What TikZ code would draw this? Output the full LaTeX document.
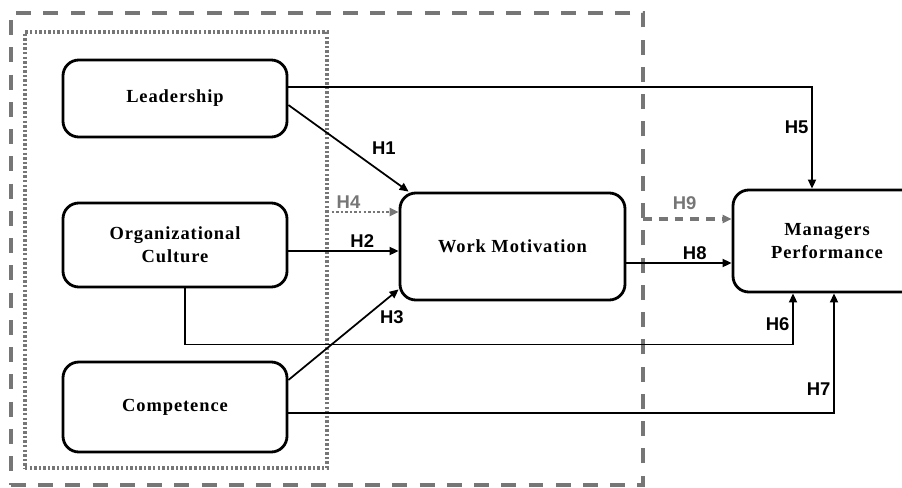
\documentclass[tikz,border=0pt]{standalone}
\usepackage{fontspec}
\setmainfont{Liberation Serif}
\newfontfamily\varfont[LetterSpace=5]{Liberation Serif}
\newfontfamily\hypfont{Liberation Sans}
\usetikzlibrary{arrows.meta, positioning, calc}
\definecolor{cgrey}{HTML}{767676}
\tikzset{
  every picture/.style={line width=1pt},
  var/.style={draw, line width=1.6pt, rounded corners=9pt, align=center, inner sep=2pt,
    font=\varfont\fontsize{10.5}{13}\selectfont\bfseries, minimum width=44.8mm},
  link/.style={-{Triangle[length=1.8mm, width=1.6mm]}, line width=1pt},
  modlink/.style={link, draw=cgrey},
  hyp/.style={font=\hypfont\fontsize{10.5}{12}\selectfont\bfseries, inner sep=1.5pt},
  hypgrey/.style={hyp, text=cgrey},
  frame/.style={draw=cgrey, inner sep=0pt, outer sep=0pt},
}

\begin{document}
\begin{tikzpicture}[x=0.2mm, y=-0.2mm]
  \useasboundingbox (0,0) rectangle (902,487);
  % mediation frame and exogenous group
  \node[frame, line width=2.1pt, dash pattern=on 8.5pt off 7pt, minimum width=126.4mm, minimum height=94.4mm] (outer) at (327,249) {};
  \node[frame, line width=1.8pt, dash pattern=on 1.4pt off 1.2pt, minimum width=60.4mm, minimum height=87.2mm] (inner) at (176,250) {};
  % variables
  \node[var, minimum height=15.4mm] (lead) at (175,98.5) {Leadership};
  \node[var, minimum height=16.8mm] (oc) at (175,245) {Organizational\\Culture};
  \node[var, minimum height=18mm] (comp) at (175,407) {Competence};
  \node[var, minimum width=45mm, minimum height=21.4mm] (wm) at (512.5,246.5) {Work Motivation};
  \node[var, minimum width=37.6mm, minimum height=20.4mm] (perf) at (827,241) {Managers\\Performance};
  % hypotheses
  \draw[link] ([yshift=-1.3mm]lead.east) -- ([xshift=2mm]wm.north west) node[midway, right=4mm, hyp] {H1};
  \draw[link] ([yshift=-1.2mm]oc.east) -- ([yshift=-1.2mm]oc.east -| wm.west) node[pos=0.67, above, hyp] {H2};
  \draw[link] ([yshift=5.4mm]comp.east) -- ([yshift=2.4mm]wm.south west) node[pos=0.8, below right, hyp] {H3};
  \draw[modlink, line width=1.4pt, dash pattern=on 1.4pt off 1.2pt] ([yshift=7.6mm]inner.east) -- ([yshift=7.6mm]inner.east -| wm.west) node[pos=0.3, above, hypgrey] {H4};
  \draw[link] ([yshift=2.3mm]lead.east) -| ([xshift=-3mm]perf.north) node[pos=0.7, left, hyp] {H5};
  \draw[link] ([xshift=2mm]oc.south) -- ++(0,56) -| ([xshift=-6.8mm]perf.south) node[pos=0.7, left, hyp] {H6};
  \draw[link] ([yshift=-1.2mm]comp.east) -| ([xshift=1.4mm]perf.south) node[pos=0.6, left, hyp] {H7};
  \draw[link] ([yshift=-3.3mm]wm.east) -- ([yshift=-3.3mm]wm.east -| perf.west) node[pos=0.65, above, hyp] {H8};
  \draw[modlink, dash pattern=on 5pt off 4pt, line width=1.8pt] ([yshift=6mm]outer.east) -- ([yshift=6mm]outer.east -| perf.west) node[pos=0.47, above=1mm, hypgrey] {H9};
\end{tikzpicture}
\end{document}
